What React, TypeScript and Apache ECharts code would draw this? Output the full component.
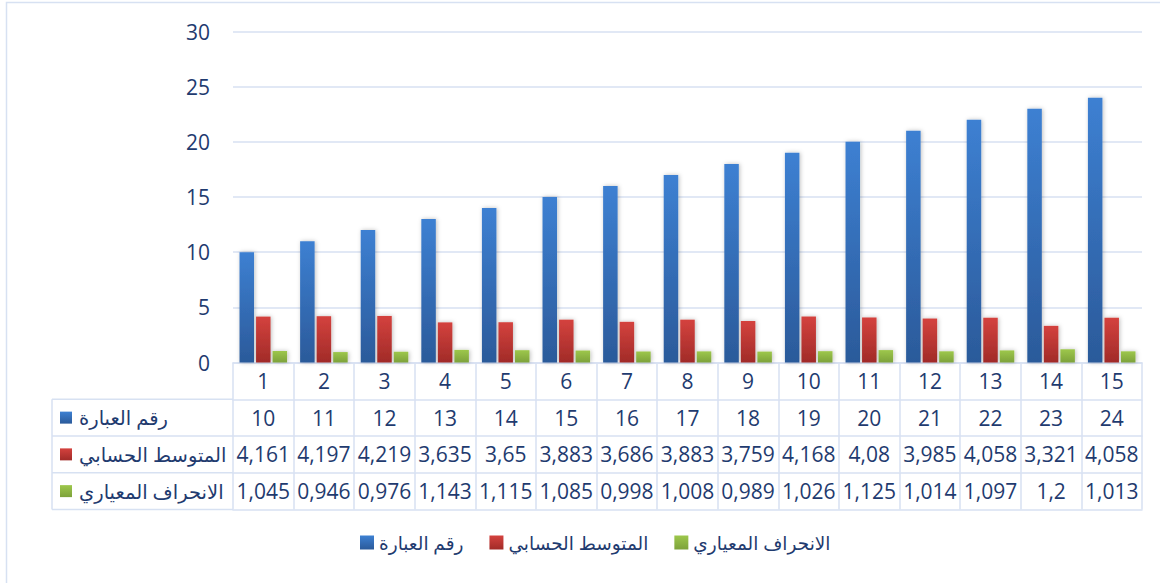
import React, { useEffect, useRef } from "react";
import * as echarts from "echarts";

const categories = ["1", "2", "3", "4", "5", "6", "7", "8", "9", "10", "11", "12", "13", "14", "15"];
const statementNo = [10, 11, 12, 13, 14, 15, 16, 17, 18, 19, 20, 21, 22, 23, 24];
const meanValues = [4.161, 4.197, 4.219, 3.635, 3.65, 3.883, 3.686, 3.883, 3.759, 4.168, 4.08, 3.985, 4.058, 3.321, 4.058];
const stdValues = [1.045, 0.946, 0.976, 1.143, 1.115, 1.085, 0.998, 1.008, 0.989, 1.026, 1.125, 1.014, 1.097, 1.2, 1.013];
const seriesNames = ["رقم العبارة", "المتوسط الحسابي", "الانحراف المعياري"];
const yTicks = { min: 0, max: 30, interval: 5 };

const FONT = "'Open Sans', 'DejaVu Sans', sans-serif";
const TEXT = "#1F3B6F";
const LINE = "#D7E1F2";

const fmt = (v: number) => String(v).replace(".", ",");

const grad = (top: string, bottom: string) =>
  new echarts.graphic.LinearGradient(0, 0, 0, 1, [
    { offset: 0, color: top },
    { offset: 1, color: bottom },
  ]);

export default function App() {
  const ref = useRef<HTMLDivElement>(null);

  useEffect(() => {
    if (!ref.current) return;
    const chart = echarts.init(ref.current, undefined, { renderer: "svg" });

    const colors = [
      grad("#3D80D2", "#2B5A9A"),
      grad("#D4423E", "#A12B28"),
      grad("#9DC74B", "#7DA23B"),
    ];

    const gridTop = 31.5;
    const gridBottomY = 362.5;
    const rowH = 36.75;
    const gridLeft = 233;
    const gridRight = 1142;
    const tableLeft = 52;

    const rowAxis = (idx: number, labels: string[], showLabels: boolean) => ({
      type: "category",
      gridIndex: 0,
      position: "bottom",
      offset: rowH * idx,
      data: labels,
      axisLine: { show: true, lineStyle: { color: LINE, width: 1.5 } },
      axisTick: {
        show: showLabels,
        interval: 0,
        length: rowH,
        lineStyle: { color: LINE, width: 1.5 },
      },
      axisLabel: {
        show: showLabels,
        interval: 0,
        margin: rowH / 2,
        verticalAlign: "middle",
        color: TEXT,
        fontSize: 21,
        fontFamily: FONT,
      },
      splitLine: { show: false },
    });

    const rowCenters = [1.5, 2.5, 3.5].map((k) => gridBottomY + rowH * k);
    const graphics: any[] = [
      {
        type: "rect",
        shape: { x: 6.5, y: 2.5, width: 1300, height: 800 },
        style: { fill: "none", stroke: LINE, lineWidth: 1.5 },
        silent: true,
      },
      {
        type: "line",
        shape: { x1: tableLeft, y1: gridBottomY + rowH, x2: tableLeft, y2: gridBottomY + rowH * 4 },
        style: { stroke: LINE, lineWidth: 1.5 },
      },
    ];
    for (let k = 1; k <= 4; k++) {
      graphics.push({
        type: "line",
        shape: { x1: tableLeft, y1: gridBottomY + rowH * k, x2: gridLeft, y2: gridBottomY + rowH * k },
        style: { stroke: LINE, lineWidth: 1.5 },
      });
    }
    seriesNames.forEach((name, i) => {
      graphics.push({
        type: "rect",
        shape: { x: 60, y: rowCenters[i] - 6, width: 12, height: 12 },
        style: { fill: colors[i] },
      });
      graphics.push({
        type: "text",
        x: 79,
        y: rowCenters[i],
        style: {
          text: name,
          fill: TEXT,
          fontSize: 19.5,
          fontFamily: FONT,
          align: "left",
          verticalAlign: "middle",
        },
      });
    });

    const barStyle = (i: number) => ({
      color: colors[i],
      shadowBlur: 4,
      shadowColor: "rgba(0,0,0,0.25)",
      shadowOffsetX: 1,
      shadowOffsetY: 0,
    });

    chart.setOption({
      animation: false,
      grid: {
        left: gridLeft,
        right: 1160 - gridRight,
        top: gridTop,
        bottom: 583 - gridBottomY,
        containLabel: false,
      },
      legend: {
        data: seriesNames,
        left: 355,
        top: 528,
        icon: "rect",
        itemWidth: 14,
        itemHeight: 14,
        itemGap: 26,
        textStyle: { color: TEXT, fontSize: 18.5, fontFamily: FONT },
      },
      xAxis: [
        rowAxis(0, categories, true),
        rowAxis(1, statementNo.map(fmt), true),
        rowAxis(2, meanValues.map(fmt), true),
        rowAxis(3, stdValues.map(fmt), true),
        rowAxis(4, categories, false),
      ],
      yAxis: {
        type: "value",
        min: yTicks.min,
        max: yTicks.max,
        interval: yTicks.interval,
        axisLine: { show: false },
        axisTick: { show: false },
        axisLabel: { color: TEXT, fontSize: 21, fontFamily: FONT, margin: 23 },
        splitLine: { lineStyle: { color: LINE, width: 1.5 } },
      },
      series: [
        { name: seriesNames[0], type: "bar", xAxisIndex: 0, data: statementNo, barWidth: 14.5, barGap: "14%", itemStyle: barStyle(0) },
        { name: seriesNames[1], type: "bar", xAxisIndex: 0, data: meanValues, barWidth: 14.5, barGap: "14%", itemStyle: barStyle(1) },
        { name: seriesNames[2], type: "bar", xAxisIndex: 0, data: stdValues, barWidth: 14.5, barGap: "14%", itemStyle: barStyle(2) },
      ],
      graphic: graphics,
    });

    return () => chart.dispose();
  }, []);

  return (
    <div
      ref={ref}
      style={{ position: "fixed", left: 0, top: 0, width: 1160, height: 583, background: "#ffffff" }}
    />
  );
}
